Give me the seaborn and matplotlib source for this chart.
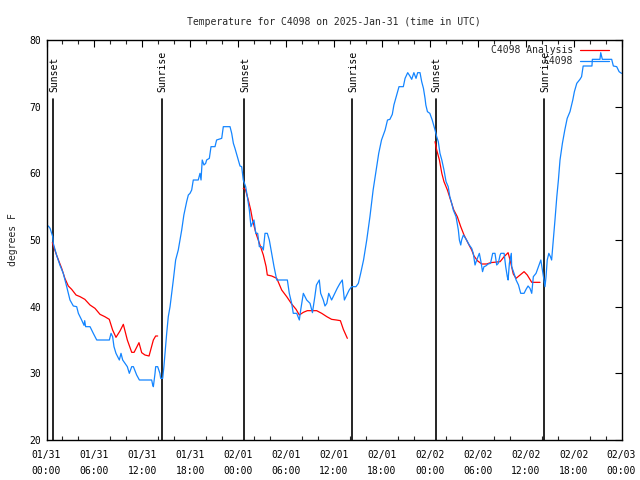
import matplotlib
matplotlib.use("Agg")
import matplotlib.pyplot as plt
from matplotlib.lines import Line2D
from matplotlib.ticker import MultipleLocator
import numpy as np
import pandas as pd
import seaborn as sns

# ---- data (hours since 2025-01-31 00:00 UTC, degrees F) ----
obs_hours = [0.23, 0.45, 0.65, 0.78, 0.85, 1.27, 1.69, 2.1, 2.53, 2.94, 3.36, 3.78, 3.99, 4.4, 4.7, 4.78, 4.9,
             5.45, 5.86, 6.29, 7.87, 8.08, 8.28, 8.45, 8.7, 9.12, 9.33, 9.54, 9.83, 10.12, 10.37, 10.67, 10.88,
             11.29, 11.63, 13.17, 13.3, 13.38, 13.59, 13.67, 13.92, 14.2, 14.3, 14.55, 14.7, 14.84, 15.05, 15.25,
             15.47, 15.88, 16.17, 16.5, 16.93, 17.2, 17.55, 17.76, 17.97, 18.18, 18.38, 19.0, 19.22, 19.35, 19.5,
             19.72, 19.93, 20.05, 20.39, 20.6, 21.1, 21.3, 21.94, 22.14, 22.98, 23.19, 23.4, 23.6, 23.9, 24.23,
             24.44, 24.64, 24.94, 25.15, 25.4, 25.6, 25.77, 25.98, 26.2, 26.44, 26.65, 26.95, 27.15, 27.36, 27.65,
             27.9, 28.2, 28.49, 28.83, 30.16, 30.4, 30.7, 30.9, 31.33, 31.66, 31.83, 32.16, 32.58, 33.0, 33.3,
             33.6, 33.8, 34.16, 34.33, 34.66, 34.87, 35.1, 35.34, 35.7, 36.1, 36.4, 36.75, 37.04, 37.3, 37.6,
             37.9, 38.2, 38.75, 39.05, 39.34, 39.7, 40.1, 40.5, 40.9, 41.35, 41.6, 41.95, 42.4, 42.7, 43.0, 43.3,
             43.5, 43.85, 44.14, 44.68, 44.9, 45.23, 45.5, 45.73, 46.0, 46.27, 46.48, 46.77, 46.98, 47.2, 47.4,
             47.5, 47.7, 48.0, 48.3, 48.65, 48.86, 49.06, 49.27, 49.5, 49.77, 50.03, 50.3, 50.5, 50.74, 50.94,
             51.28, 51.57, 51.7, 51.87, 51.98, 52.2, 52.6, 52.94, 53.24, 53.44, 53.66, 53.87, 54.2, 54.4, 54.6,
             54.78, 55.0, 55.3, 55.6, 55.87, 56.16, 56.37, 56.57, 56.8, 56.9, 57.3, 57.5, 57.7, 57.8, 57.96,
             58.2, 58.25, 58.54, 58.8, 59.1, 59.38, 59.8, 60.05, 60.3, 60.54, 60.76, 60.96, 61.3, 61.6, 61.9,
             62.1, 62.3, 62.42, 62.55, 62.7, 62.9, 63.1, 63.25, 63.46, 63.67, 63.9, 64.1, 64.3, 64.6, 64.9,
             65.2, 65.55, 65.9, 66.1, 66.4, 66.8, 67.0, 67.2, 68.3, 68.35, 69.3, 69.4, 69.6, 70.77, 70.98,
             71.4, 71.7, 72.0]
obs_temp = [52.1, 51.75, 51.0, 50.5, 49.5, 47.7, 46.2, 45.0, 43.0, 41.0, 40.1, 40.0, 39.0, 38.0, 37.2, 37.9, 37.0,
            37.0, 36.0, 35.0, 35.0, 36.0, 35.5, 34.0, 33.0, 32.0, 33.0, 32.0, 31.5, 31.0, 30.0, 31.0, 31.0,
            29.75, 29.0, 29.0, 28.25, 28.0, 30.0, 31.0, 31.0, 30.0, 29.25, 29.25, 31.0, 33.0, 36.0, 38.5,
            40.0, 44.0, 47.0, 48.5, 51.5, 53.75, 55.75, 56.75, 57.0, 57.5, 59.0, 59.0, 60.0, 59.0, 62.0,
            61.25, 61.5, 62.0, 62.25, 64.0, 64.0, 65.0, 65.25, 67.0, 67.0, 66.0, 64.5, 63.75, 62.5, 61.1,
            61.0, 59.0, 58.0, 56.5, 54.5, 52.0, 52.5, 53.0, 51.0, 51.0, 49.0, 49.0, 48.5, 51.0, 51.0,
            50.0, 48.0, 46.0, 44.0, 44.0, 42.0, 40.5, 39.0, 39.0, 38.0, 39.5, 42.0, 41.0, 40.5, 39.1,
            41.5, 43.25, 44.0, 42.0, 41.0, 40.1, 40.5, 42.0, 41.0, 42.0, 42.75, 43.5, 44.0, 41.0, 41.75,
            42.5, 43.0, 43.0, 43.5, 45.0, 47.0, 50.0, 53.5, 57.5, 61.0, 63.0, 65.0, 66.5, 68.0, 68.1, 68.85,
            70.25, 71.75, 73.0, 73.0, 74.25, 75.1, 74.6, 74.1, 75.1, 74.25, 75.1, 75.1, 73.75, 72.75, 71.25,
            70.25, 69.25, 69.0, 68.0, 66.5, 65.5, 64.75, 63.0, 62.0, 60.5, 58.75, 58.0, 56.5, 55.5, 54.5,
            53.5, 51.5, 50.0, 49.25, 50.0, 50.75, 50.0, 49.25, 48.75, 48.0, 46.25, 47.0, 48.0, 46.75, 45.25,
            46.0, 46.1, 46.4, 46.5, 48.0, 48.0, 46.25, 46.5, 47.75, 48.0, 48.0, 46.0, 44.5, 44.0, 46.5,
            48.0, 46.0, 45.0, 44.0, 43.25, 42.0, 42.0, 42.6, 43.1, 42.75, 42.0, 44.5, 45.0, 46.0, 47.0,
            45.5, 44.0, 43.0, 44.5, 47.0, 48.0, 47.5, 47.0, 50.0, 53.0, 56.5, 59.0, 62.0, 64.5, 66.5,
            68.25, 69.25, 71.0, 72.25, 73.5, 74.1, 74.5, 76.1, 76.1, 77.1, 77.1, 78.1, 77.1, 77.1, 76.1,
            76.0, 75.25, 75.0]

ana_hours = [0.73, 1.27, 1.9, 2.3, 2.73, 3.15, 3.7, 4.2, 4.8, 5.45, 6.07, 6.7, 7.3, 7.86, 8.28, 8.7, 9.2, 9.62,
             10.12, 10.67, 10.97, 11.58, 11.92, 12.33, 12.84, 13.38, 13.67, 13.92,
             24.64, 24.9, 25.27, 25.57, 25.8, 26.23, 26.73, 27.15, 27.5, 27.65, 28.2, 28.83, 29.45, 30.08,
             30.7, 31.25, 31.66, 32.16, 32.66, 33.83, 34.46, 35.1, 35.7, 36.3, 36.8, 37.17, 37.67,
             48.65, 48.86, 49.2, 49.5, 49.77, 50.2, 50.6, 51.0, 51.44, 51.87, 52.28, 52.8, 53.24, 53.53,
             53.95, 54.5, 55.12, 55.6, 56.8, 57.3, 57.8, 58.1, 58.45, 58.8, 59.3, 59.8, 60.2, 60.76, 61.8]
ana_temp = [49.6, 47.7, 45.75, 44.25, 43.1, 42.6, 41.75, 41.5, 41.1, 40.25, 39.75, 38.85, 38.5, 38.1, 36.5, 35.4,
            36.35, 37.35, 35.0, 33.15, 33.15, 34.6, 33.1, 32.75, 32.6, 35.0, 35.6, 35.6,
            57.75, 57.6, 56.0, 54.5, 53.0, 51.0, 49.25, 47.75, 46.0, 44.75, 44.6, 44.25, 42.5, 41.5,
            40.4, 39.6, 38.75, 39.15, 39.4, 39.4, 39.0, 38.5, 38.1, 38.0, 37.9, 36.6, 35.25,
            64.75, 63.5, 62.0, 60.0, 58.75, 57.5, 56.0, 54.5, 53.5, 52.0, 50.75, 49.5, 48.5, 47.6,
            46.9, 46.4, 46.4, 46.6, 46.75, 47.5, 48.1, 46.75, 44.9, 44.25, 44.75, 45.25, 44.75, 43.65, 43.65]
ana_segment = [0] * 28 + [1] * 27 + [2] * 29

sun_hours = [0.85, 14.42, 24.77, 38.3, 48.77, 62.34]
sun_labels = ["Sunset", "Sunrise", "Sunset", "Sunrise", "Sunset", "Sunrise"]

xtick_hours = [0, 6, 12, 18, 24, 30, 36, 42, 48, 54, 60, 66, 72]
xtick_labels = ["01/31\n00:00", "01/31\n06:00", "01/31\n12:00", "01/31\n18:00",
                "02/01\n00:00", "02/01\n06:00", "02/01\n12:00", "02/01\n18:00",
                "02/02\n00:00", "02/02\n06:00", "02/02\n12:00", "02/02\n18:00",
                "02/03\n00:00"]
yticks = [20, 30, 40, 50, 60, 70, 80]

# ---- styling ----
sns.set_style("white")
plt.rcParams['font.family'] = ['DejaVu Sans Mono', 'DejaVu Sans']
FS = 7
BLUE = "#1485ff"
RED = "#ff0000"

fig = plt.figure(figsize=(6.4, 4.8), dpi=100)
ax = fig.add_axes([46.5 / 640, 40 / 480, 575 / 640, 400 / 480])

obs_df = pd.DataFrame({"hours": obs_hours, "temp": obs_temp})
ana_df = pd.DataFrame({"hours": ana_hours, "temp": ana_temp, "seg": ana_segment})

sns.lineplot(data=ana_df, x="hours", y="temp", units="seg", estimator=None,
             color=RED, linewidth=0.9, ax=ax, sort=False)
sns.lineplot(data=obs_df, x="hours", y="temp", estimator=None,
             color=BLUE, linewidth=0.9, ax=ax, sort=False)

for h, lab in zip(sun_hours, sun_labels):
    ax.plot([h, h], [20, 71.1], color="black", linewidth=1.2, zorder=1)
    ax.text(h + 0.1, 72.2, lab, rotation=90, ha="center", va="bottom", fontsize=FS, color="black")

ax.set_xlim(0, 72)
ax.set_ylim(20, 80)
ax.set_xticks(xtick_hours)
ax.set_xticklabels(xtick_labels, fontsize=FS, linespacing=1.65)
ax.xaxis.set_minor_locator(MultipleLocator(2))
ax.set_yticks(yticks)
ax.set_yticklabels([str(v) for v in yticks], fontsize=FS)
ax.tick_params(axis="both", which="major", direction="in", length=5, width=0.8,
               top=True, right=True, pad=4, colors="black")
ax.tick_params(axis="x", which="major", pad=7.5)
ax.tick_params(axis="x", which="minor", direction="in", length=3, width=0.8, top=True, bottom=True)
for sp in ax.spines.values():
    sp.set_color("black")
    sp.set_linewidth(1.0)

ax.set_xlabel("")
ax.set_ylabel("degrees F", fontsize=FS, labelpad=8)
ax.set_title("Temperature for C4098 on 2025-Jan-31 (time in UTC)", fontsize=FS, pad=11)

handles = [Line2D([], [], color=RED, linewidth=0.9), Line2D([], [], color=BLUE, linewidth=0.9)]
ax.legend(handles, ["C4098 Analysis", "C4098"], loc="upper right", frameon=False, fontsize=FS,
          markerfirst=False, handlelength=3.0, handletextpad=0.7, labelspacing=0.15,
          bbox_to_anchor=(0.988, 1.002), borderaxespad=0.2)

fig.savefig("out.png", dpi=100)
